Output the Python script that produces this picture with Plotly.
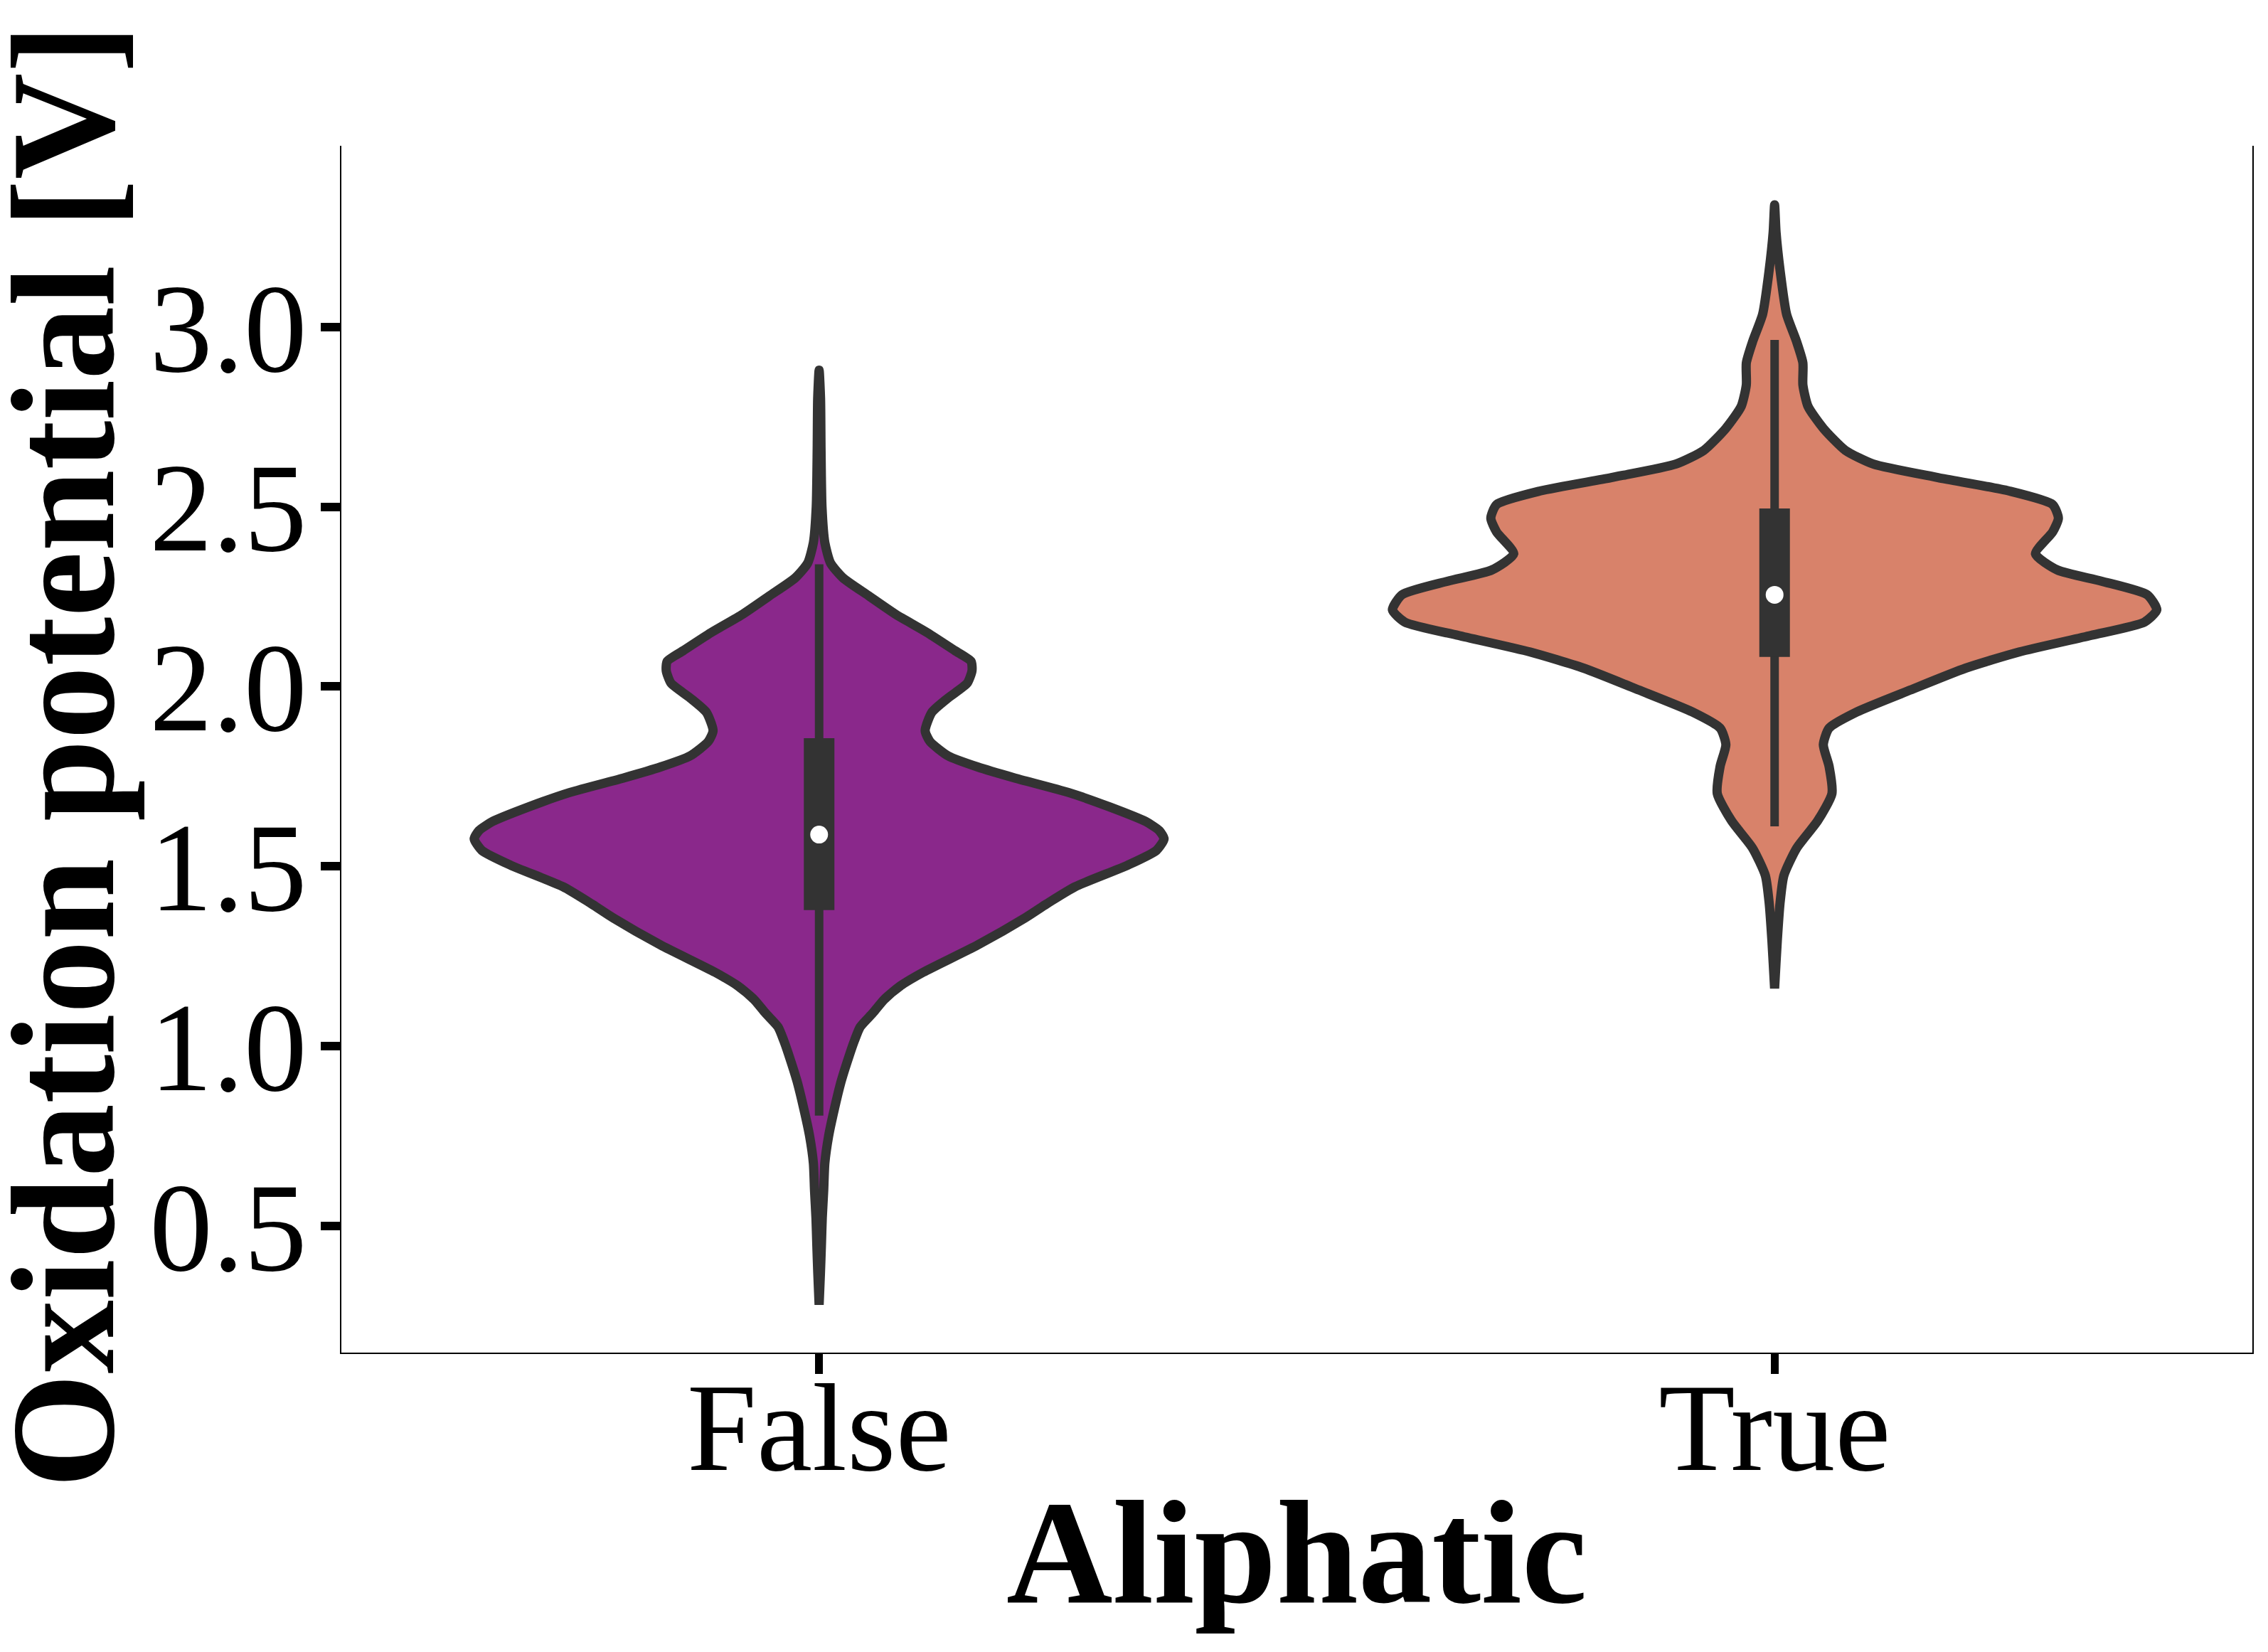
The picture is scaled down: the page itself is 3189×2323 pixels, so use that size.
import plotly.graph_objects as go

# categories and their positions on the numeric x axis
categories = ["False", "True"]
positions = [0, 1]
fill_colors = ["#8a288b", "#d8826a"]

# violin density profiles: y value and half width
false_y = [2.88, 2.80, 2.66, 2.50, 2.40, 2.343, 2.302, 2.252, 2.201, 2.150,
           2.100, 2.070, 2.044, 2.009, 1.968, 1.928, 1.877, 1.847, 1.807, 1.776,
           1.746, 1.705, 1.665, 1.624, 1.599, 1.576, 1.544, 1.503, 1.443, 1.395,
           1.357, 1.281, 1.205, 1.167, 1.129, 1.091, 1.053, 1.015, 0.977, 0.901,
           0.825, 0.750, 0.674, 0.598, 0.522, 0.446, 0.370, 0.28]
false_hw = [0.0, 0.0015, 0.002, 0.003, 0.006, 0.012, 0.025, 0.052, 0.080, 0.113,
            0.142, 0.159, 0.160, 0.155, 0.135, 0.118, 0.111, 0.116, 0.135, 0.166,
            0.204, 0.261, 0.304, 0.342, 0.356, 0.361, 0.353, 0.323, 0.268, 0.238,
            0.216, 0.166, 0.109, 0.085, 0.068, 0.056, 0.043, 0.037, 0.032, 0.023,
            0.016, 0.010, 0.006, 0.0048, 0.0033, 0.0024, 0.0014, 0.0]

true_y = [3.34, 3.264, 3.158, 3.036, 2.961, 2.900, 2.839, 2.779, 2.718, 2.657,
          2.619, 2.581, 2.544, 2.506, 2.468, 2.430, 2.369, 2.324, 2.293, 2.255,
          2.213, 2.179, 2.142, 2.096, 2.051, 1.990, 1.929, 1.884, 1.838, 1.778,
          1.702, 1.626, 1.550, 1.474, 1.398, 1.292, 1.16]
true_hw = [0.0, 0.0015, 0.0057, 0.0125, 0.0228, 0.0296, 0.0296, 0.035, 0.051, 0.074,
           0.103, 0.171, 0.245, 0.291, 0.297, 0.291, 0.273, 0.296, 0.342, 0.390,
           0.400, 0.387, 0.331, 0.256, 0.200, 0.142, 0.086, 0.057, 0.051, 0.057,
           0.060, 0.045, 0.023, 0.0097, 0.0057, 0.0028, 0.0]

# inner box statistics
whisker_lo = [0.806, 1.611]
q1 = [1.378, 2.082]
median = [1.588, 2.255]
q3 = [1.856, 2.495]
whisker_hi = [2.34, 2.964]

y_ticks = [0.5, 1.0, 1.5, 2.0, 2.5, 3.0]
y_ticktext = ["0.5", "1.0", "1.5", "2.0", "2.5", "3.0"]

profiles = [(false_y, false_hw), (true_y, true_hw)]

FONT = "Liberation Serif"
DARK = "#333333"

fig = go.Figure()

for pos, color, (ys, hws) in zip(positions, fill_colors, profiles):
    xs = [pos - w for w in hws] + [pos + w for w in reversed(hws)]
    yy = list(ys) + list(reversed(ys))
    fig.add_trace(go.Scatter(
        x=xs, y=yy, mode="lines", fill="toself", fillcolor=color,
        line=dict(color=DARK, width=13, shape="spline", smoothing=0.6),
        hoverinfo="skip", showlegend=False,
    ))

for i, pos in enumerate(positions):
    # whisker
    fig.add_trace(go.Scatter(
        x=[pos, pos], y=[whisker_lo[i], whisker_hi[i]], mode="lines",
        line=dict(color=DARK, width=12), showlegend=False, hoverinfo="skip",
    ))
    # interquartile box
    fig.add_trace(go.Scatter(
        x=[pos, pos], y=[q1[i], q3[i]], mode="lines",
        line=dict(color=DARK, width=43), showlegend=False, hoverinfo="skip",
    ))
    # median
    fig.add_trace(go.Scatter(
        x=[pos], y=[median[i]], mode="markers",
        marker=dict(color="white", size=25, line=dict(width=0)),
        showlegend=False, hoverinfo="skip",
    ))

# invisible trace so the overlaid label axis gets drawn
fig.add_trace(go.Scatter(
    x=positions, y=median, xaxis="x2", yaxis="y", mode="markers",
    marker=dict(opacity=0), showlegend=False, hoverinfo="skip",
))

# the page body has an 8px margin, so the figure is a little smaller than the window
fig.update_layout(
    width=3173, height=2307,
    margin=dict(l=472, r=12, t=197, b=413),
    plot_bgcolor="white", paper_bgcolor="white",
    font=dict(family=FONT, color="black"),
    showlegend=False,
)

# bottom axis: line and tick marks only
fig.update_xaxes(
    range=[-0.5, 1.5], tickvals=positions, showticklabels=False,
    showgrid=False, zeroline=False,
    showline=True, linecolor="black", linewidth=2, mirror=False,
    ticks="outside", ticklen=28, tickwidth=11, tickcolor="black",
)

# overlaid axis that carries the category labels closer to the ticks
fig.update_layout(xaxis2=dict(
    overlaying="x", anchor="free", position=0.022, side="bottom",
    range=[-0.5, 1.5], tickvals=positions, ticktext=categories,
    showgrid=False, zeroline=False, showline=False, ticks="",
    ticklabelstandoff=25,
    tickfont=dict(family=FONT, size=176, color="black"),
))

fig.update_yaxes(
    range=[0.147, 3.504], tickvals=y_ticks, ticktext=y_ticktext,
    showgrid=False, zeroline=False,
    showline=True, linecolor="black", linewidth=2, mirror=True,
    ticks="outside", ticklen=27, tickwidth=12, tickcolor="black",
    ticklabelstandoff=-16,
    tickfont=dict(family=FONT, size=177, color="black"),
)

title_font = dict(family=FONT, size=207, color="black", weight="bold")
fig.add_annotation(
    text="Aliphatic", xref="paper", yref="paper", x=0.5, y=0,
    xanchor="center", yanchor="middle", yshift=-281,
    showarrow=False, font=title_font,
)
fig.add_annotation(
    text="Oxidation potential [V]", xref="paper", yref="paper", x=0, y=0.5,
    xanchor="center", yanchor="middle", xshift=-391, yshift=-10,
    textangle=-90, showarrow=False, font=title_font,
)

fig.write_html("out.html")
